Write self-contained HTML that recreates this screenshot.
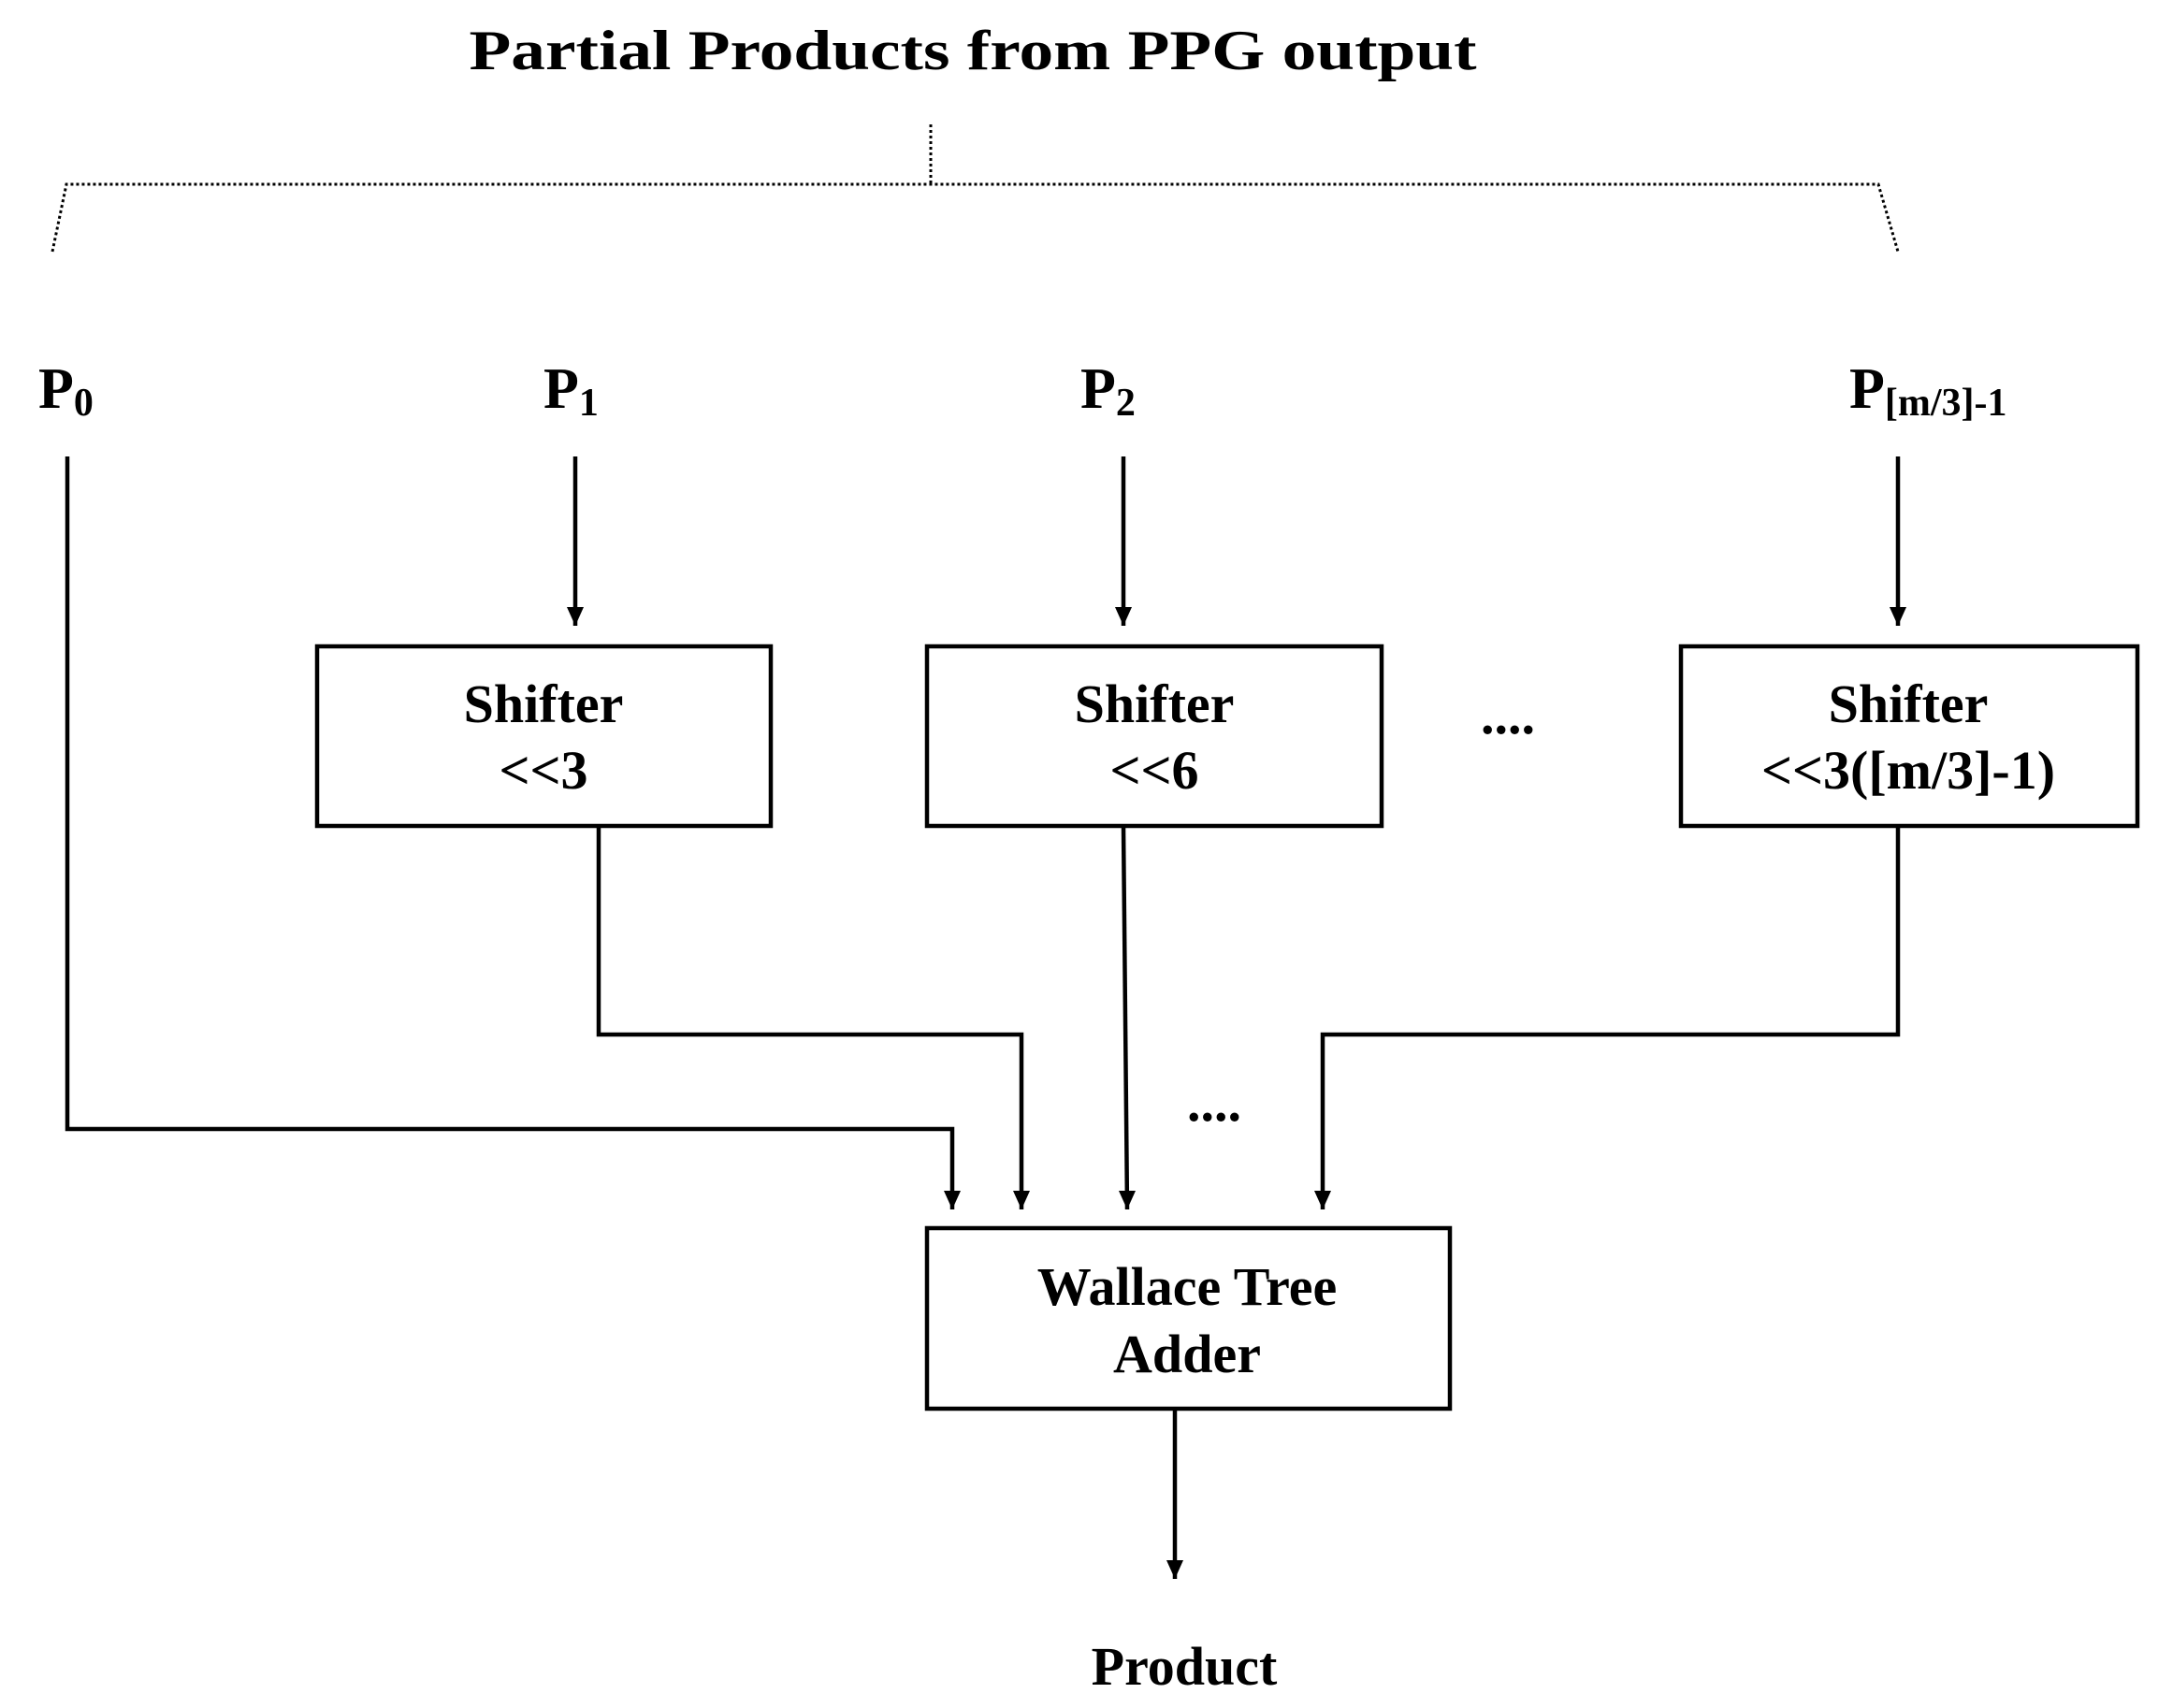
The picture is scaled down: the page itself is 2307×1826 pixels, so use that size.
<!DOCTYPE html>
<html><head><style>html,body{margin:0;padding:0;background:#fff}</style></head>
<body>
<svg width="2307" height="1821" viewBox="0 0 2307 1821" xmlns="http://www.w3.org/2000/svg" font-family="Liberation Serif, serif" font-weight="bold" fill="#000">
<defs><marker id="a" markerWidth="10" markerHeight="10" refX="5" refY="8" orient="auto" markerUnits="userSpaceOnUse" viewBox="0 0 10 10"><path d="M0,0 L10,0 L5,10 z" transform="scale(1)"/></marker>
<marker id="b" markerWidth="18" markerHeight="20" refX="9" refY="20" orient="0" markerUnits="userSpaceOnUse"><path d="M0,0 L18,0 L9,20 z"/></marker></defs>
<text x="1040" y="74" font-size="60" text-anchor="middle" textLength="1077" lengthAdjust="spacingAndGlyphs">Partial Products  from PPG output</text>
<g stroke="#000" stroke-width="3" stroke-dasharray="3,3" fill="none">
<path d="M56,269 L71,197 L2008,197 L2029,269"/>
<path d="M995,133 L995,197"/>
</g>
<g font-size="62">
<text x="41" y="436">P<tspan font-size="42" dy="8">0</tspan></text>
<text x="581" y="436">P<tspan font-size="42" dy="8">1</tspan></text>
<text x="1155" y="436">P<tspan font-size="42" dy="8">2</tspan></text>
<text x="1977" y="436">P<tspan font-size="42" dy="8">[m/3]-1</tspan></text>
</g>
<g stroke="#000" stroke-width="4.5" fill="none">
<path d="M72,488 L72,1207 L1018,1207 L1018,1293" marker-end="url(#b)"/>
<path d="M615,488 L615,669" marker-end="url(#b)"/>
<path d="M1201,488 L1201,669" marker-end="url(#b)"/>
<path d="M2029,488 L2029,669" marker-end="url(#b)"/>
<rect x="339" y="691" width="485" height="192"/>
<rect x="991" y="691" width="486" height="192"/>
<rect x="1797" y="691" width="488" height="192"/>
<path d="M640,883 L640,1106 L1092,1106 L1092,1293" marker-end="url(#b)"/>
<path d="M1201,883 L1205,1293" marker-end="url(#b)"/>
<path d="M2029,883 L2029,1106 L1414,1106 L1414,1293" marker-end="url(#b)"/>
<rect x="991" y="1313" width="559" height="193"/>
<path d="M1256,1506 L1256,1688" marker-end="url(#b)"/>
</g>
<g font-size="58" text-anchor="middle">
<text x="581" y="772">Shifter</text>
<text x="581" y="843">&lt;&lt;3</text>
<text x="1234" y="772">Shifter</text>
<text x="1234" y="843">&lt;&lt;6</text>
<text x="2040" y="772">Shifter</text>
<text x="2040" y="843">&lt;&lt;3([m/3]-1)</text>
<text x="1269" y="1395">Wallace Tree</text>
<text x="1269" y="1467">Adder</text>
<text x="1266" y="1801">Product</text>
<text x="1612" y="784">....</text>
<text x="1298" y="1198">....</text>
</g>
</svg>
</body></html>
